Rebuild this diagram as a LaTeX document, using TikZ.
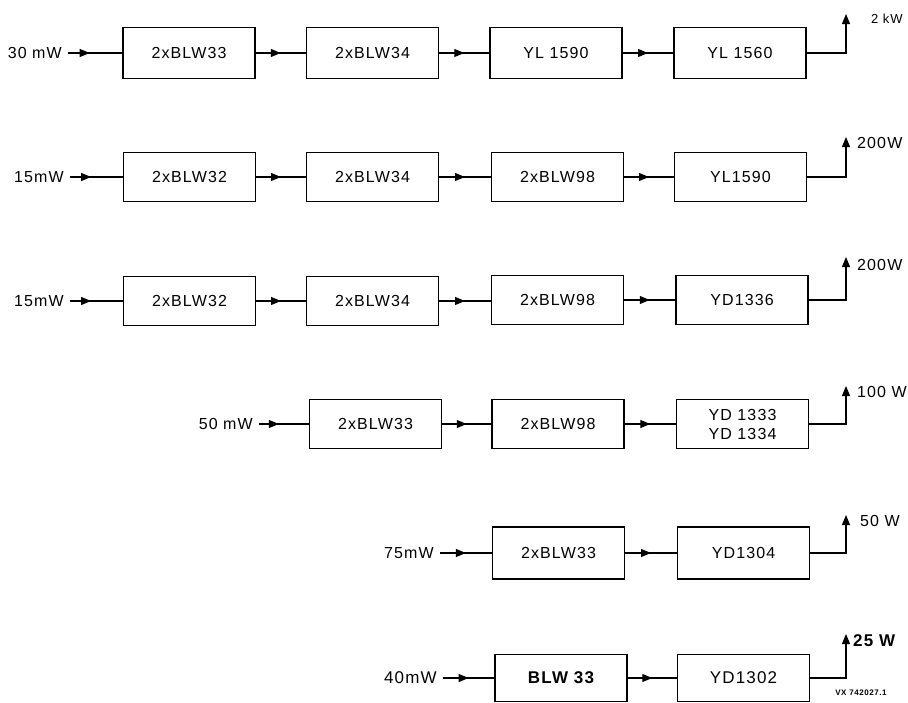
\documentclass[tikz,border=0pt]{standalone}
\usepackage{fontspec}
\setmainfont[LetterSpace=7]{Liberation Sans}
\usetikzlibrary{arrows.meta,decorations.markings}
\tikzset{
  blk/.style={draw, line width=1.7pt, minimum width=132pt, minimum height=49pt, inner sep=0pt, font=\fontsize{16}{19}\selectfont, align=center},
  lbl/.style={inner sep=0pt, font=\fontsize{16}{18}\selectfont},
  wire/.style={line width=1.1pt},
  midarrow/.style={wire, postaction={decorate}, decoration={markings, mark=at position #1 with {\arrow{Triangle[length=10pt,width=8pt]}}}},
  outarrow/.style={wire, -{Triangle[length=10pt,width=8pt]}}
}
\begin{document}
\begin{tikzpicture}[x=1pt,y=-1pt]
\useasboundingbox (0,0) rectangle (908,702);
% Row 1
\node[lbl, anchor=east] (i1) at (62,53) {30 mW};
\node[blk, minimum height=51pt] (a1) at (189,53) {2xBLW33};
\node[blk, minimum height=51pt] (b1) at (372.5,53) {2xBLW34};
\node[blk, minimum height=51pt] (c1) at (556,53) {YL 1590};
\node[blk, minimum height=51pt] (d1) at (740,53) {YL 1560};
\coordinate (o1) at (846,14);
\node[lbl, anchor=west, font=\fontsize{13}{15}\selectfont] (p1) at (871,19) {2 kW};
\draw[midarrow=0.4] (i1.east) ++(6,0) -- (a1.west);
\draw[midarrow=0.5] (a1.east) -- (b1.west);
\draw[midarrow=0.5] (b1.east) -- (c1.west);
\draw[midarrow=0.5] (c1.east) -- (d1.west);
\draw[outarrow] (d1.east) -| (o1);
% Row 2
\node[lbl, anchor=east] (i2) at (64,177) {15mW};
\node[blk] (a2) at (189.5,177) {2xBLW32};
\node[blk] (b2) at (372.5,177) {2xBLW34};
\node[blk] (c2) at (557.5,177) {2xBLW98};
\node[blk] (d2) at (740.5,177) {YL1590};
\coordinate (o2) at (846,137);
\node[lbl, anchor=west] (p2) at (857,143) {200W};
\draw[midarrow=0.4] (i2.east) ++(6,0) -- (a2.west);
\draw[midarrow=0.5] (a2.east) -- (b2.west);
\draw[midarrow=0.5] (b2.east) -- (c2.west);
\draw[midarrow=0.5] (c2.east) -- (d2.west);
\draw[outarrow] (d2.east) -| (o2);
% Row 3
\node[lbl, anchor=east] (i3) at (64,301) {15mW};
\node[blk] (a3) at (189.5,301) {2xBLW32};
\node[blk] (b3) at (372.5,301) {2xBLW34};
\node[blk] (c3) at (557.5,300) {2xBLW98};
\node[blk] (d3) at (742,300) {YD1336};
\coordinate (o3) at (846,257);
\node[lbl, anchor=west] (p3) at (857,265) {200W};
\draw[midarrow=0.4] (i3.east) ++(6,0) -- (a3.west);
\draw[midarrow=0.5] (a3.east) -- (b3.west);
\draw[midarrow=0.5] (b3.east) -- (c3.west |- b3.east);
\draw[midarrow=0.5] (c3.east) -- (d3.west);
\draw[outarrow] (d3.east) -| (o3);
% Row 4
\node[lbl, anchor=east] (i4) at (253,424) {50 mW};
\node[blk] (b4) at (375.5,424) {2xBLW33};
\node[blk] (c4) at (558,424) {2xBLW98};
\node[blk] (d4) at (742.5,424) {YD 1333\\YD 1334};
\coordinate (o4) at (846,386);
\node[lbl, anchor=west] (p4) at (857,392) {100 W};
\draw[midarrow=0.4] (i4.east) ++(6,0) -- (b4.west);
\draw[midarrow=0.5] (b4.east) -- (c4.west);
\draw[midarrow=0.5] (c4.east) -- (d4.west);
\draw[outarrow] (d4.east) -| (o4);
% Row 5
\node[lbl, anchor=east] (i5) at (434,553) {75mW};
\node[blk, minimum height=52pt] (c5) at (558.5,553) {2xBLW33};
\node[blk, minimum height=52pt] (d5) at (743.5,553) {YD1304};
\coordinate (o5) at (846,515);
\node[lbl, anchor=west] (p5) at (860,521) {50 W};
\draw[midarrow=0.5] (i5.east) ++(6,0) -- (c5.west);
\draw[midarrow=0.5] (c5.east) -- (d5.west);
\draw[outarrow] (d5.east) -| (o5);
% Row 6
\node[lbl, anchor=east, font=\fontsize{17}{19}\selectfont] (i6) at (437,678) {40mW};
\node[blk, font=\fontsize{17}{19}\selectfont\bfseries, minimum height=47pt] (c6) at (561,678) {BLW 33};
\node[blk, font=\fontsize{17}{19}\selectfont, minimum height=47pt] (d6) at (743.5,678) {YD1302};
\coordinate (o6) at (846,634);
\node[lbl, anchor=west, font=\fontsize{17}{19}\selectfont\bfseries] (p6) at (853,641) {25 W};
\node[lbl, font=\fontsize{8}{9}\selectfont\bfseries] (vx) at (861,693) {VX 742027.1};
\draw[midarrow=0.5] (i6.east) ++(6,0) -- (c6.west);
\draw[midarrow=0.5] (c6.east) -- (d6.west);
\draw[outarrow] (d6.east) -| (o6);
\end{tikzpicture}
\end{document}
